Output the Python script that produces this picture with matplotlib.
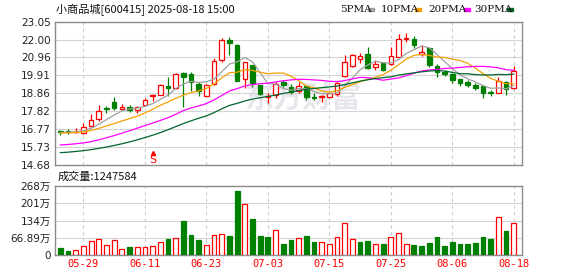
import matplotlib
matplotlib.use('Agg')
import matplotlib.pyplot as plt
from matplotlib.patches import Rectangle

# ---------------- 数据 ----------------
dates = ['05-26', '05-27', '05-28', '05-29', '05-30', '06-03', '06-04', '06-05', '06-06', '06-09',
         '06-10', '06-11', '06-12', '06-13', '06-16', '06-17', '06-18', '06-19', '06-20', '06-23',
         '06-24', '06-25', '06-26', '06-27', '06-30', '07-01', '07-02', '07-03', '07-04', '07-07',
         '07-08', '07-09', '07-10', '07-11', '07-14', '07-15', '07-16', '07-17', '07-18', '07-21',
         '07-22', '07-23', '07-24', '07-25', '07-28', '07-29', '07-30', '07-31', '08-01', '08-04',
         '08-05', '08-06', '08-07', '08-08', '08-11', '08-12', '08-13', '08-14', '08-15', '08-18']

opens = [16.66, 16.66, 16.62, 16.57, 16.96, 17.35, 18.02, 18.36, 17.98, 18.09,
         17.90, 18.18, 18.72, 18.79, 19.29, 19.16, 20.07, 19.99, 19.41, 18.73,
         19.39, 20.81, 21.98, 21.69, 19.72, 20.50, 19.35, 18.63, 18.75, 19.54,
         19.25, 18.98, 19.31, 18.65, 18.67, 18.63, 18.81, 19.90, 20.48, 20.87,
         21.16, 20.38, 20.65, 20.56, 20.97, 22.04, 22.04, 21.14, 21.49, 20.46,
         20.13, 19.99, 19.68, 19.54, 19.37, 19.29, 18.96, 18.90, 19.54, 19.16]
highs = [16.72, 16.77, 16.85, 17.15, 17.68, 18.16, 18.12, 18.63, 18.22, 18.21,
         18.13, 18.61, 18.83, 19.39, 19.80, 20.03, 20.13, 20.13, 19.54, 19.39,
         20.95, 22.12, 22.17, 21.75, 20.71, 20.52, 19.37, 18.86, 19.54, 19.64,
         19.39, 19.54, 19.35, 18.90, 18.77, 18.96, 19.54, 21.10, 21.16, 21.20,
         21.59, 20.81, 20.71, 21.55, 22.33, 22.37, 22.23, 21.69, 21.53, 20.56,
         20.23, 20.03, 19.68, 19.64, 19.49, 19.35, 19.06, 19.84, 19.58, 20.46]
lows = [16.45, 16.50, 16.55, 16.49, 16.88, 17.25, 17.70, 17.89, 17.89, 17.79,
        17.73, 18.12, 18.42, 18.75, 18.71, 19.14, 18.06, 19.00, 18.73, 18.71,
        19.35, 20.67, 21.10, 19.58, 19.16, 19.25, 18.77, 18.28, 18.60, 19.25,
        18.83, 18.90, 18.47, 18.47, 18.38, 18.57, 18.71, 19.84, 20.42, 20.61,
        20.26, 20.22, 20.19, 20.52, 20.91, 21.88, 21.49, 21.06, 20.42, 19.80,
        19.90, 19.49, 19.31, 19.25, 19.06, 18.61, 18.71, 18.86, 18.77, 19.12]
closes = [16.62, 16.60, 16.65, 16.88, 17.31, 17.83, 17.98, 17.99, 18.07, 17.90,
          18.09, 18.47, 18.75, 19.33, 19.16, 19.97, 19.84, 19.54, 19.00, 19.35,
          20.75, 21.98, 21.82, 19.58, 20.67, 19.45, 18.81, 18.71, 19.41, 19.35,
          18.96, 19.29, 18.67, 18.61, 18.71, 18.90, 19.49, 20.67, 21.10, 21.04,
          20.32, 20.58, 20.22, 21.04, 22.04, 22.08, 21.69, 21.30, 20.52, 20.13,
          19.97, 19.64, 19.49, 19.37, 19.19, 18.90, 18.86, 19.58, 19.12, 20.17]

ma5 = [16.58, 16.60, 16.62, 16.68, 16.82, 17.06, 17.33, 17.60, 17.84, 17.95,
       18.01, 18.10, 18.26, 18.51, 18.76, 19.14, 19.41, 19.57, 19.50, 19.54,
       19.70, 20.12, 20.58, 20.70, 20.96, 20.70, 20.07, 19.44, 19.41, 19.15,
       19.05, 19.14, 19.14, 18.98, 18.85, 18.84, 18.88, 19.28, 19.77, 20.24,
       20.52, 20.74, 20.65, 20.64, 20.84, 21.19, 21.41, 21.63, 21.53, 21.14,
       20.72, 20.31, 19.95, 19.72, 19.53, 19.32, 19.16, 19.18, 19.13, 19.33]
ma10 = [16.55, 16.56, 16.58, 16.62, 16.70, 16.82, 16.96, 17.10, 17.25, 17.39,
        17.53, 17.72, 17.93, 18.17, 18.36, 18.57, 18.76, 18.91, 19.01, 19.15,
        19.42, 19.77, 20.07, 20.10, 20.25, 20.20, 20.10, 20.01, 20.05, 20.05,
        19.87, 19.61, 19.29, 19.19, 19.00, 18.94, 19.01, 19.21, 19.38, 19.54,
        19.68, 19.81, 19.96, 20.21, 20.54, 20.86, 21.08, 21.14, 21.08, 20.99,
        20.96, 20.86, 20.79, 20.62, 20.34, 20.02, 19.74, 19.57, 19.43, 19.43]
ma20 = [15.85, 15.88, 15.92, 15.97, 16.05, 16.15, 16.27, 16.40, 16.54, 16.68,
        16.83, 16.98, 17.13, 17.28, 17.44, 17.64, 17.86, 18.01, 18.13, 18.27,
        18.48, 18.74, 19.00, 19.14, 19.30, 19.38, 19.43, 19.46, 19.53, 19.60,
        19.65, 19.69, 19.68, 19.65, 19.62, 19.57, 19.55, 19.61, 19.71, 19.80,
        19.78, 19.71, 19.63, 19.70, 19.77, 19.90, 20.04, 20.17, 20.23, 20.27,
        20.32, 20.34, 20.38, 20.42, 20.44, 20.44, 20.41, 20.35, 20.25, 20.21]
ma30 = [15.40, 15.43, 15.47, 15.52, 15.58, 15.65, 15.73, 15.82, 15.92, 16.03,
        16.15, 16.28, 16.42, 16.57, 16.74, 16.92, 17.10, 17.26, 17.41, 17.55,
        17.74, 17.96, 18.16, 18.28, 18.42, 18.53, 18.61, 18.68, 18.77, 18.86,
        18.94, 19.03, 19.10, 19.15, 19.20, 19.24, 19.29, 19.38, 19.48, 19.58,
        19.66, 19.73, 19.78, 19.83, 19.93, 20.00, 20.06, 20.12, 20.17, 20.20,
        20.17, 20.09, 20.01, 20.01, 19.96, 19.94, 19.94, 19.97, 19.96, 19.99]

# 成交量 (万)
volume = [28, 17, 19, 35, 54, 63, 39, 58, 23, 32,
          31, 31, 35, 50, 63, 66, 133, 79, 59, 39,
          77, 81, 75, 249, 197, 140, 75, 71, 98, 44,
          59, 66, 75, 52, 50, 43, 70, 124, 62, 52,
          54, 43, 44, 70, 85, 43, 40, 36, 48, 71,
          36, 52, 44, 44, 48, 71, 63, 147, 94, 124.76]

price_ticks = [14.68, 15.73, 16.77, 17.82, 18.86, 19.91, 20.96, 22.00, 23.05]
vol_ticks = [0, 66.89, 134, 201, 268]
vol_labels = ['0', '66.89万', '134万', '201万', '268万']
date_ticks = [3, 11, 19, 27, 35, 43, 51, 59]

RED = '#ff0000'
GREEN = '#008000'
GRID = '#d4d4d4'
BORDER = '#8c8c8c'
ma_colors = ['#a0a0a0', '#f5a000', '#ff00ff', '#00662e']

plt.rcParams['font.family'] = ['DejaVu Sans', 'Noto Sans CJK SC']

W, H = 578, 276
fig = plt.figure(figsize=(W / 100, H / 100), dpi=100)


def px_axes(l, t, r, b):
    return fig.add_axes([l / W, 1 - b / H, (r - l) / W, (b - t) / H])


ax = px_axes(55, 21.7, 522, 165)
ax2 = px_axes(55, 186, 522, 255.3)

n = len(closes)
w = 0.6
xs = list(range(n))

# 水印
ax.text(0.53, 0.47, '东方财富', transform=ax.transAxes, fontsize=21, fontweight='bold',
        color='#e6e6ec', ha='center', va='center', family=['Noto Sans CJK SC'], zorder=0)

# K线
for i in xs:
    o, h, l, c = opens[i], highs[i], lows[i], closes[i]
    up = c >= o
    col = RED if up else GREEN
    ax.vlines(i, l, h, color=col, lw=0.9, zorder=2)
    if abs(c - o) < 0.03:
        ax.hlines((o + c) / 2, i - w / 2, i + w / 2, color=col, lw=1.0, zorder=3)
    else:
        ax.add_patch(Rectangle((i - w / 2, min(o, c)), w, abs(c - o),
                               facecolor='white' if up else GREEN, edgecolor=col,
                               lw=0.9, zorder=3))

for ma, col in zip([ma5, ma10, ma20, ma30], ma_colors):
    ax.plot(xs, ma, color=col, lw=0.9, zorder=4)

# S 标记
ax.annotate('S', xy=(12, 14.95), color=RED, fontsize=8, ha='center', va='center', zorder=5)
ax.plot(12, 15.38, marker='^', color=RED, markersize=3, zorder=5)

# 成交量
for i in xs:
    up = closes[i] >= closes[i - 1] if i > 0 else False
    if up:
        ax2.bar(i, volume[i], width=0.62, facecolor='white', edgecolor=RED, lw=0.9, zorder=3)
    else:
        ax2.bar(i, volume[i], width=0.62, facecolor=GREEN, edgecolor=GREEN, lw=0.9, zorder=3)

for a in (ax, ax2):
    a.set_xlim(-0.7, 60.07)
    for s in a.spines.values():
        s.set_color(BORDER)
        s.set_linewidth(1.0)
    a.set_xticks(date_ticks)
    a.tick_params(length=0, labelsize=7.5, colors='#222222', pad=3)
    a.yaxis.grid(True, color=GRID, lw=0.8, zorder=0)
    a.xaxis.grid(True, color='#cccccc', lw=0.8, ls=(0, (3, 3)), zorder=0)
    a.set_axisbelow(True)

ax.set_ylim(14.68, 23.05)
ax.set_yticks(price_ticks)
ax.set_yticklabels(['%.2f' % v for v in price_ticks])
ax.set_xticklabels([])

ax2.set_ylim(0, 268)
ax2.set_yticks(vol_ticks)
ax2.set_yticklabels(vol_labels, family=['DejaVu Sans', 'Noto Sans CJK SC'])
ax2.set_xticklabels([dates[i] for i in date_ticks], color=RED, family='DejaVu Sans Mono', fontsize=7.5)

# 标题 / 图例
fig.text(56 / W, 1 - 9.5 / H, '小商品城[600415] 2025-08-18 15:00', fontsize=8,
         family=['Noto Sans CJK SC'], va='center', ha='left', color='#111111')
legend = [('5PMA', 340, 368), ('10PMA', 381, 415), ('20PMA', 428, 464), ('30PMA', 474, 507)]
for (label, tx, sx), col in zip(legend, ma_colors):
    fig.text(tx / W, 1 - 9.5 / H, label, fontsize=7.5, family='DejaVu Serif',
             va='center', ha='left', color='#111111')
    fig.patches.append(Rectangle((sx / W, 1 - 11 / H), 6 / W, 3 / H, color=col,
                                 transform=fig.transFigure, figure=fig))

fig.text(58 / W, 1 - 176.5 / H, '成交量:1247584', fontsize=8,
         family=['Noto Sans CJK SC'], va='center', ha='left', color='#111111')

fig.savefig('out.png', dpi=100)
